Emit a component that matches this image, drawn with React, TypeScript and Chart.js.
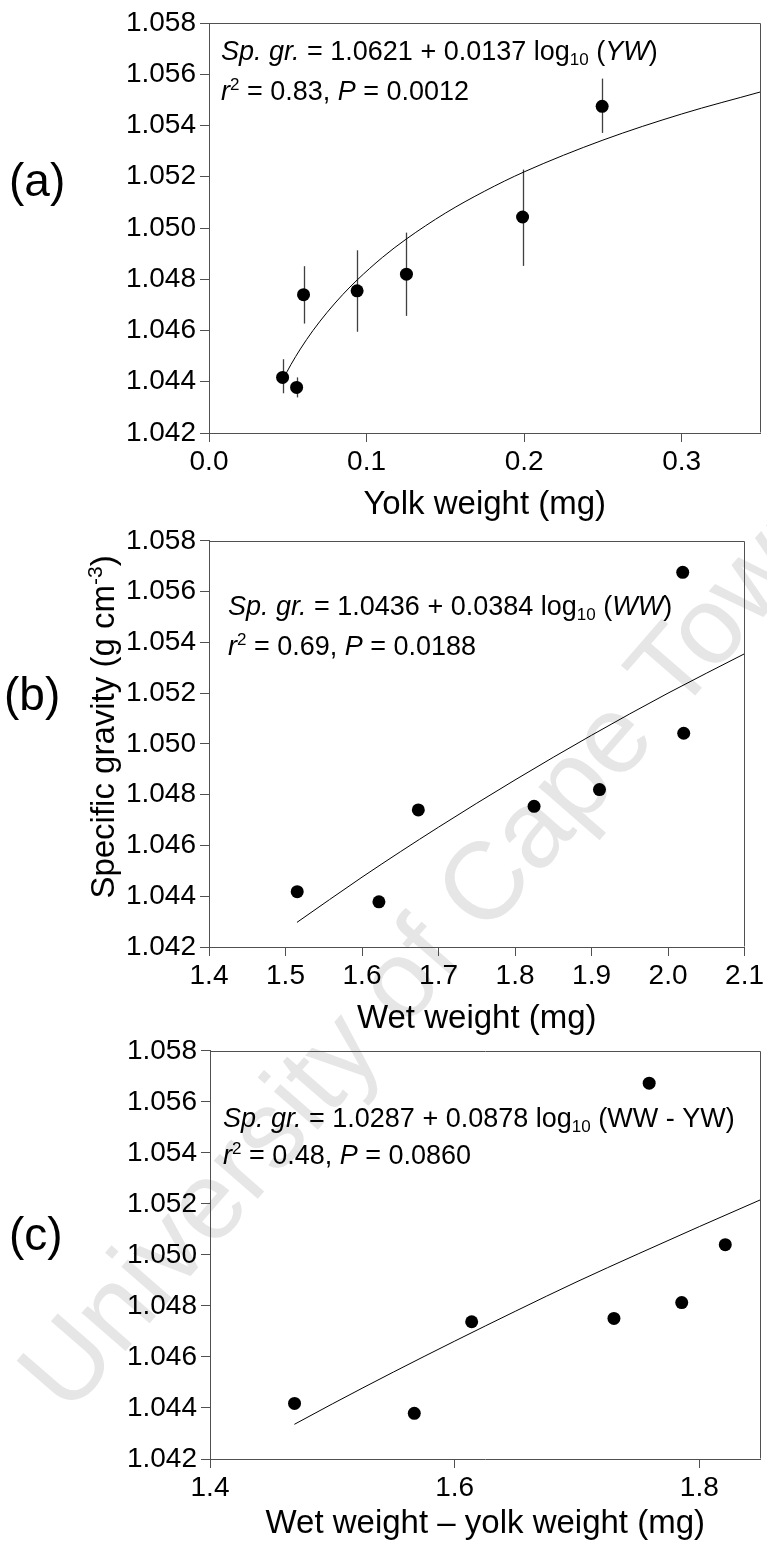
import React, { useEffect, useRef } from "react";
import { Chart, registerables } from "chart.js";

Chart.register(...registerables);

const FONT = "'Liberation Sans', Arial, Helvetica, sans-serif";

// ---------- Panel (a): specific gravity vs yolk weight ----------
const yolkWeight = [0.0467, 0.0556, 0.06, 0.094, 0.1253, 0.199, 0.2495];
const spGravA = [1.04417, 1.04378, 1.0474, 1.04755, 1.0482, 1.05043, 1.05475];
const errLowA = [1.04355, 1.04339, 1.04627, 1.04595, 1.04657, 1.04852, 1.05371];
const errHighA = [1.04488, 1.04417, 1.04851, 1.04913, 1.04982, 1.05228, 1.05583];
const fitXA = [0.047, 0.052, 0.058, 0.066, 0.075, 0.085, 0.094, 0.11, 0.125, 0.15, 0.175, 0.2, 0.25, 0.3, 0.35];
const fitYA = [1.0441, 1.04467, 1.04528, 1.046, 1.04671, 1.04741, 1.04797, 1.04885, 1.04956, 1.05058, 1.05144, 1.05219, 1.05343, 1.05445, 1.05531];
const xTicksA = [0, 0.1, 0.2, 0.3];

// ---------- Panel (b): specific gravity vs wet weight ----------
const wetWeight = [1.5153, 1.6221, 1.6736, 1.8249, 1.9104, 2.0205, 2.0192];
const spGravB = [1.04418, 1.04378, 1.0474, 1.04754, 1.0482, 1.05042, 1.05676];
const fitXB = [1.515, 1.6, 1.7, 1.8, 1.9, 2.0, 2.1];
const fitYB = [1.04297, 1.04475, 1.04672, 1.04858, 1.05034, 1.052, 1.05355];
const xTicksB = [1.4, 1.5, 1.6, 1.7, 1.8, 1.9, 2.0, 2.1];

// ---------- Panel (c): specific gravity vs wet weight - yolk weight ----------
const wwMinusYw = [1.4691, 1.567, 1.6139, 1.7302, 1.7856, 1.8212, 1.759];
const spGravC = [1.04418, 1.04379, 1.04738, 1.04751, 1.04813, 1.0504, 1.05673];
const fitXC = [1.469, 1.5, 1.55, 1.6, 1.65, 1.7, 1.75, 1.8, 1.85];
const fitYC = [1.04336, 1.04416, 1.04541, 1.04662, 1.0478, 1.04895, 1.05004, 1.05111, 1.05216];
const xTicksC = [1.4, 1.6, 1.8];

// shared y axis
const yTicks = [1.042, 1.044, 1.046, 1.048, 1.05, 1.052, 1.054, 1.056, 1.058];

type Seg = { t: string; i?: boolean; sup?: boolean; sub?: boolean };

function drawRich(ctx: CanvasRenderingContext2D, segs: Seg[], x: number, y: number, size: number, doDraw = true) {
  let cx = x;
  for (const s of segs) {
    const small = s.sup || s.sub;
    const fs = small ? Math.round(size * 0.64) : size;
    ctx.font = `${s.i ? "italic " : ""}${fs}px ${FONT}`;
    const dy = s.sup ? -size * 0.36 : s.sub ? size * 0.2 : 0;
    if (doDraw) ctx.fillText(s.t, cx, y + dy);
    cx += ctx.measureText(s.t).width;
  }
  return cx - x;
}

interface PanelSpec {
  top: number;
  height: number;
  yAxisWidth: number;
  padTop: number;
  padRight: number;
  xAxisHeight: number;
  xMin: number;
  xMax: number;
  xTicks: number[];
  xDec: number;
  xs: number[];
  ys: number[];
  errLow?: number[];
  errHigh?: number[];
  fitX: number[];
  fitY: number[];
  label: { text: string; x: number; y: number };
  annot: { left: number; baselines: number[]; lines: Seg[][] };
  xTitle: { text: string; baseline: number };
  yTitle?: { segs: Seg[]; x: number; y: number };
}

const panels: PanelSpec[] = [
  {
    top: 0,
    height: 530,
    yAxisWidth: 209,
    padTop: 23,
    padRight: 5,
    xAxisHeight: 97,
    xMin: 0,
    xMax: 0.35,
    xTicks: xTicksA,
    xDec: 1,
    xs: yolkWeight,
    ys: spGravA,
    errLow: errLowA,
    errHigh: errHighA,
    fitX: fitXA,
    fitY: fitYA,
    label: { text: "(a)", x: 9, y: 183 },
    annot: {
      left: 221,
      baselines: [60, 100],
      lines: [
        [{ t: "Sp. gr.", i: true }, { t: " = 1.0621 + 0.0137 log" }, { t: "10", sub: true }, { t: " (" }, { t: "YW", i: true }, { t: ")" }],
        [{ t: "r", i: true }, { t: "2", sup: true }, { t: " = 0.83, " }, { t: "P", i: true }, { t: " = 0.0012" }],
      ],
    },
    xTitle: { text: "Yolk weight (mg)", baseline: 514 },
  },
  {
    top: 520,
    height: 530,
    yAxisWidth: 209,
    padTop: 18,
    padRight: 22,
    xAxisHeight: 103,
    xMin: 1.4,
    xMax: 2.1,
    xTicks: xTicksB,
    xDec: 1,
    xs: wetWeight,
    ys: spGravB,
    fitX: fitXB,
    fitY: fitYB,
    label: { text: "(b)", x: 4, y: 697 },
    annot: {
      left: 228,
      baselines: [615, 655],
      lines: [
        [{ t: "Sp. gr.", i: true }, { t: " = 1.0436 + 0.0384 log" }, { t: "10", sub: true }, { t: " (" }, { t: "WW", i: true }, { t: ")" }],
        [{ t: "r", i: true }, { t: "2", sup: true }, { t: " = 0.69, " }, { t: "P", i: true }, { t: " = 0.0188" }],
      ],
    },
    xTitle: { text: "Wet weight (mg)", baseline: 1028 },
    yTitle: { segs: [{ t: "Specific gravity (g cm" }, { t: "-3", sup: true }, { t: ")" }], x: 114, y: 727 },
  },
  {
    top: 1030,
    height: 511,
    yAxisWidth: 210,
    padTop: 19,
    padRight: 4,
    xAxisHeight: 82,
    xMin: 1.4,
    xMax: 1.85,
    xTicks: xTicksC,
    xDec: 1,
    xs: wwMinusYw,
    ys: spGravC,
    fitX: fitXC,
    fitY: fitYC,
    label: { text: "(c)", x: 9, y: 1237 },
    annot: {
      left: 223,
      baselines: [1127, 1164],
      lines: [
        [{ t: "Sp. gr.", i: true }, { t: " = 1.0287 + 0.0878 log" }, { t: "10", sub: true }, { t: " (WW - YW)" }],
        [{ t: "r", i: true }, { t: "2", sup: true }, { t: " = 0.48, " }, { t: "P", i: true }, { t: " = 0.0860" }],
      ],
    },
    xTitle: { text: "Wet weight \u2013 yolk weight (mg)", baseline: 1533 },
  },
];

const AXIS_COLOR = "#505050";
const TICK_SIZE = 28;
const ANNOT_SIZE = 27;
const TITLE_SIZE = 33;
const LABEL_SIZE = 46;

function buildConfig(p: PanelSpec): any {
  const errorBars = {
    id: "errorBars",
    beforeDatasetsDraw(chart: any) {
      if (!p.errLow || !p.errHigh) return;
      const { ctx, scales } = chart;
      ctx.save();
      ctx.strokeStyle = "#404040";
      ctx.lineWidth = 1.3;
      p.xs.forEach((xv, i) => {
        const px = Math.round(scales.x.getPixelForValue(xv)) + 0.5;
        const y1 = scales.y.getPixelForValue(p.errLow![i]);
        const y2 = scales.y.getPixelForValue(p.errHigh![i]);
        ctx.beginPath();
        ctx.moveTo(px, y1);
        ctx.lineTo(px, y2);
        ctx.stroke();
      });
      ctx.restore();
    },
  };

  const frame = {
    id: "frame",
    afterDraw(chart: any) {
      const { ctx, chartArea } = chart;
      ctx.save();
      ctx.strokeStyle = AXIS_COLOR;
      ctx.lineWidth = 1;
      const l = Math.round(chartArea.left) + 0.5;
      const t = Math.round(chartArea.top) + 0.5;
      const r = Math.round(chartArea.right) - 0.5;
      const b = Math.round(chartArea.bottom) - 0.5;
      ctx.beginPath();
      ctx.moveTo(l, t);
      ctx.lineTo(r, t);
      ctx.lineTo(r, b);
      ctx.stroke();
      ctx.restore();
    },
  };

  const texts = {
    id: "texts",
    afterDraw(chart: any) {
      const { ctx, chartArea } = chart;
      const off = p.top;
      ctx.save();
      ctx.fillStyle = "#000";
      // panel label
      ctx.font = `${LABEL_SIZE}px ${FONT}`;
      ctx.textBaseline = "middle";
      ctx.textAlign = "left";
      ctx.fillText(p.label.text, p.label.x, p.label.y - off);
      // annotation
      ctx.textBaseline = "alphabetic";
      p.annot.lines.forEach((line, i) => {
        drawRich(ctx, line, p.annot.left, p.annot.baselines[i] - off, ANNOT_SIZE);
      });
      // x title
      ctx.font = `${TITLE_SIZE}px ${FONT}`;
      ctx.textAlign = "center";
      ctx.fillText(p.xTitle.text, (chartArea.left + chartArea.right) / 2, p.xTitle.baseline - off);
      ctx.textAlign = "left";
      // y title
      if (p.yTitle) {
        ctx.save();
        ctx.translate(p.yTitle.x, p.yTitle.y - off);
        ctx.rotate(-Math.PI / 2);
        const w = drawRich(ctx, p.yTitle.segs, 0, 0, TITLE_SIZE, false);
        drawRich(ctx, p.yTitle.segs, -w / 2, 0, TITLE_SIZE);
        ctx.restore();
      }
      ctx.restore();
    },
  };

  return {
    type: "scatter",
    data: {
      datasets: [
        {
          data: p.xs.map((x, i) => ({ x, y: p.ys[i] })),
          pointRadius: 6.5,
          pointHoverRadius: 6.5,
          backgroundColor: "#000",
          borderColor: "#000",
          borderWidth: 0,
          showLine: false,
          order: 0,
        },
        {
          data: p.fitX.map((x, i) => ({ x, y: p.fitY[i] })),
          showLine: true,
          pointRadius: 0,
          pointHoverRadius: 0,
          borderColor: "#000",
          borderWidth: 1,
          cubicInterpolationMode: "monotone",
          fill: false,
          order: 1,
        },
      ],
    },
    options: {
      animation: false,
      responsive: false,
      maintainAspectRatio: false,
      events: [],
      layout: { padding: { left: 0, top: p.padTop, right: p.padRight, bottom: 0 } },
      plugins: { legend: { display: false }, tooltip: { enabled: false }, title: { display: false } },
      scales: {
        x: {
          type: "linear",
          min: p.xMin,
          max: p.xMax,
          afterBuildTicks: (s: any) => {
            s.ticks = p.xTicks.map((v) => ({ value: v }));
          },
          afterFit: (s: any) => {
            s.height = p.xAxisHeight;
          },
          ticks: {
            callback: (v: any) => Number(v).toFixed(p.xDec),
            font: { family: FONT, size: TICK_SIZE },
            color: "#000",
            padding: 3,
            maxRotation: 0,
            autoSkip: false,
          },
          grid: { drawOnChartArea: false, drawTicks: true, tickLength: 9, color: AXIS_COLOR, lineWidth: 1 },
          border: { display: true, color: AXIS_COLOR, width: 1 },
        },
        y: {
          type: "linear",
          min: 1.042,
          max: 1.058,
          afterBuildTicks: (s: any) => {
            s.ticks = yTicks.map((v) => ({ value: v }));
          },
          afterFit: (s: any) => {
            s.width = p.yAxisWidth;
          },
          ticks: {
            callback: (v: any) => Number(v).toFixed(3),
            font: { family: FONT, size: TICK_SIZE },
            color: "#000",
            padding: 4,
            autoSkip: false,
          },
          grid: { drawOnChartArea: false, drawTicks: true, tickLength: 9, color: AXIS_COLOR, lineWidth: 1 },
          border: { display: true, color: AXIS_COLOR, width: 1 },
        },
      },
    },
    plugins: [errorBars, frame, texts],
  };
}

function Panel({ spec }: { spec: PanelSpec }) {
  const ref = useRef<HTMLCanvasElement | null>(null);
  useEffect(() => {
    if (!ref.current) return;
    const chart = new Chart(ref.current, buildConfig(spec));
    return () => chart.destroy();
  }, [spec]);
  return (
    <canvas
      ref={ref}
      width={767}
      height={spec.height}
      style={{ position: "absolute", left: 0, top: spec.top, width: 767, height: spec.height }}
    />
  );
}

export default function App() {
  return (
    <div
      style={{
        position: "absolute",
        left: 0,
        top: 0,
        width: 767,
        height: 1541,
        overflow: "hidden",
        background: "#fff",
      }}
    >
      <div
        style={{
          position: "absolute",
          left: 428,
          top: 945,
          transform: "translate(-50%, -50%) rotate(-49deg)",
          fontFamily: FONT,
          fontSize: 110,
          lineHeight: 1,
          color: "#e6e6e6",
          whiteSpace: "nowrap",
        }}
      >
        University of Cape Town
      </div>
      {panels.map((p, i) => (
        <Panel key={i} spec={p} />
      ))}
    </div>
  );
}
